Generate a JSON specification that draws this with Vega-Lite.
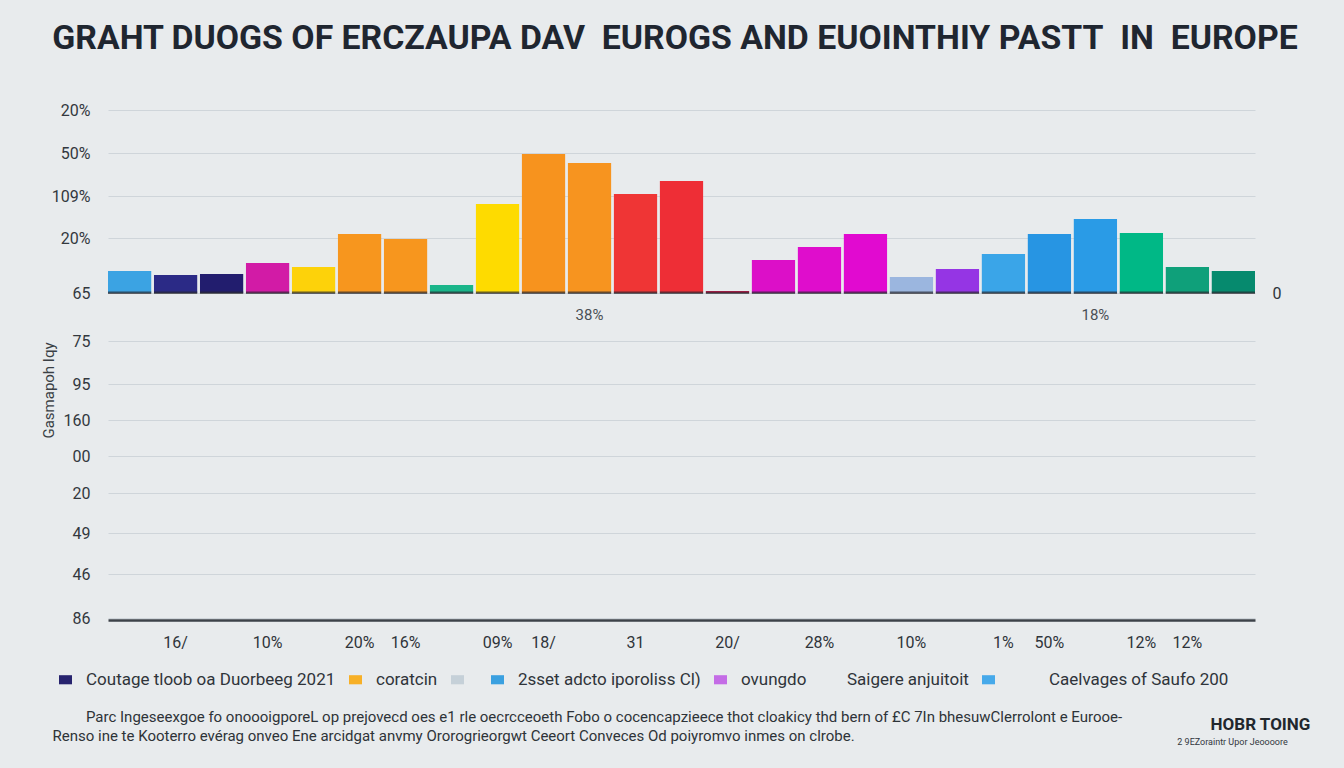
{
  "$schema": "https://vega.github.io/schema/vega-lite/v6.json",
  "autosize": {"type": "none"},
  "width": 1160,
  "height": 510,
  "padding": {"left": 108, "top": 110, "right": 76, "bottom": 148},
  "background": "#e8ebed",
  "config": {"view": {"stroke": null}, "font": "Roboto"},
  "title": {
    "text": "GRAHT DUOGS OF ERCZAUPA DAV\u00a0 EUROGS AND EUOINTHIY PASTT\u00a0 IN\u00a0 EUROPE",
    "font": "Roboto",
    "fontSize": 33.8,
    "fontWeight": "bold",
    "color": "#1f2630",
    "anchor": "middle",
    "frame": "group",
    "offset": 46,
    "dx": -13
  },
  "datasets": {
    "bars": [
      {"bar": 1, "value": 2.2, "bottom_label": "", "mid_label": ""},
      {"bar": 2, "value": 1.8, "bottom_label": "16/", "mid_label": ""},
      {"bar": 3, "value": 1.9, "bottom_label": "", "mid_label": ""},
      {"bar": 4, "value": 3.0, "bottom_label": "10%", "mid_label": ""},
      {"bar": 5, "value": 2.6, "bottom_label": "", "mid_label": ""},
      {"bar": 6, "value": 5.9, "bottom_label": "20%", "mid_label": ""},
      {"bar": 7, "value": 5.4, "bottom_label": "16%", "mid_label": ""},
      {"bar": 8, "value": 0.8, "bottom_label": "", "mid_label": ""},
      {"bar": 9, "value": 8.9, "bottom_label": "09%", "mid_label": ""},
      {"bar": 10, "value": 13.9, "bottom_label": "18/", "mid_label": ""},
      {"bar": 11, "value": 13.0, "bottom_label": "", "mid_label": "38%"},
      {"bar": 12, "value": 9.9, "bottom_label": "31", "mid_label": ""},
      {"bar": 13, "value": 11.2, "bottom_label": "", "mid_label": ""},
      {"bar": 14, "value": 0.2, "bottom_label": "20/", "mid_label": ""},
      {"bar": 15, "value": 3.3, "bottom_label": "", "mid_label": ""},
      {"bar": 16, "value": 4.6, "bottom_label": "28%", "mid_label": ""},
      {"bar": 17, "value": 5.9, "bottom_label": "", "mid_label": ""},
      {"bar": 18, "value": 1.6, "bottom_label": "10%", "mid_label": ""},
      {"bar": 19, "value": 2.4, "bottom_label": "", "mid_label": ""},
      {"bar": 20, "value": 3.9, "bottom_label": "1%", "mid_label": ""},
      {"bar": 21, "value": 5.9, "bottom_label": "50%", "mid_label": ""},
      {"bar": 22, "value": 7.4, "bottom_label": "", "mid_label": "18%"},
      {"bar": 23, "value": 6.0, "bottom_label": "12%", "mid_label": ""},
      {"bar": 24, "value": 2.6, "bottom_label": "12%", "mid_label": ""},
      {"bar": 25, "value": 2.2, "bottom_label": "", "mid_label": ""}
    ],
    "legend": [
      {"entry": "Coutage tloob oa Duorbeeg 2021"},
      {"entry": "coratcin"},
      {"entry": "gap1"},
      {"entry": "2sset adcto iporoliss Cl)"},
      {"entry": "ovungdo"},
      {"entry": "Saigere anjuitoit"},
      {"entry": "gap2"},
      {"entry": "Caelvages of Saufo 200"}
    ]
  },
  "resolve": {"axis": {"x": "independent", "y": "independent"}},
  "layer": [
    {
      "data": {"name": "bars"},
      "mark": {"type": "bar"},
      "encoding": {
        "x": {
          "field": "bar", "type": "ordinal", "sort": null,
          "scale": {"range": [0, 1147], "paddingInner": 0.06, "paddingOuter": 0},
          "axis": {
            "orient": "bottom", "labels": false, "ticks": false, "grid": false,
            "domainColor": "#3d4249", "domainWidth": 2.5,
            "title": ["\u200b\u00a0\u00a0\u00a0\u00a0\u00a0\u00a0\u00a0\u00a0\u00a0Parc Ingeseexgoe fo onoooigporeL op prejovecd oes e1 rle oecrcceoeth Fobo o cocencapzieece thot cloakicy thd bern of £C 7In bhesuwClerrolont e Eurooe-", "Renso ine te Kooterro evérag onveo Ene arcidgat anvmy Ororogrieorgwt Ceeort Conveces Od poiyromvo inmes on clrobe."],
            "titleFont": "Roboto", "titleFontSize": 15, "titleFontWeight": "normal",
            "titleColor": "#2e3338", "titleAlign": "left", "titleBaseline": "top",
            "titleX": -56, "titleY": 89, "titleLineHeight": 19
          }
        },
        "y": {
          "field": "value", "type": "quantitative",
          "scale": {"domain": [-32.7, 18.3], "nice": false, "zero": false},
          "axis": {
            "orient": "left",
            "values": [18.3, 14, 9.7, 5.5, 0, -4.8, -9.1, -12.7, -16.3, -20, -24, -28.1, -32.5],
            "labelExpr": "datum.value == 18.3 ? '20%' : datum.value == 14 ? '50%' : datum.value == 9.7 ? '109%' : datum.value == 5.5 ? '20%' : datum.value == 0 ? '65' : datum.value == -4.8 ? '75' : datum.value == -9.1 ? '95' : datum.value == -12.7 ? '160' : datum.value == -16.3 ? '00' : datum.value == -20 ? '20' : datum.value == -24 ? '49' : datum.value == -28.1 ? '46' : '86'",
            "grid": true, "gridColor": "#cfd5da", "gridWidth": 1,
            "ticks": false, "domain": false, "labelPadding": 18,
            "labelFont": "Roboto", "labelFontSize": 16, "labelColor": "#33383e",
            "title": "Gasmapoh Iqy", "titleFont": "Roboto", "titleFontSize": 15, "titleFontWeight": "normal",
            "titleColor": "#3a3f45", "titleAngle": 270, "titleAlign": "center", "titleBaseline": "middle",
            "titleX": -60, "titleY": 280
          }
        },
        "y2": {"datum": 0},
        "color": {
          "field": "bar", "type": "nominal", "sort": null,
          "scale": {
            "domain": [1, 2, 3, 4, 5, 6, 7, 8, 9, 10, 11, 12, 13, 14, 15, 16, 17, 18, 19, 20, 21, 22, 23, 24, 25],
            "range": ["#3ba3e3", "#2b2a86", "#221d6e", "#d21ba6", "#fdd20a", "#f7961e", "#f7961e", "#1ab58a", "#fedb00", "#f7931e", "#f7941f", "#ef3535", "#ee2e36", "#d6184e", "#dc0fc8", "#df0dcc", "#e10ad0", "#9bb6df", "#9535e4", "#3aa5e8", "#2795e3", "#2a9be6", "#00b886", "#0fa07a", "#068a6e"]
          },
          "legend": null
        }
      }
    },
    {
      "data": {"name": "bars"},
      "mark": {"type": "bar", "color": "#2a2a30", "opacity": 0.7},
      "encoding": {
        "x": {"field": "bar", "type": "ordinal", "sort": null, "axis": null},
        "y": {"datum": 0.15, "type": "quantitative", "axis": null},
        "y2": {"datum": -0.1}
      }
    },
    {
      "data": {"name": "bars"},
      "mark": {"type": "text", "font": "Roboto", "fontSize": 16, "color": "#2f343a"},
      "encoding": {
        "x": {"field": "bar", "type": "ordinal", "sort": null, "axis": null},
        "y": {"datum": -35, "type": "quantitative", "axis": null},
        "text": {"field": "bottom_label"}
      }
    },
    {
      "data": {"name": "bars"},
      "mark": {"type": "text", "font": "Roboto", "fontSize": 15, "color": "#4a4f55"},
      "encoding": {
        "x": {
          "field": "bar", "type": "ordinal", "sort": null,
          "axis": {
            "orient": "top", "labels": false, "ticks": false, "domain": false, "grid": false,
            "title": "2 9EZoraintr Upor Jeoooore", "titleFont": "Roboto", "titleFontSize": 9,
            "titleFontWeight": "normal", "titleColor": "#33383e", "titleAlign": "center",
            "titleBaseline": "middle", "titleX": 1124, "titleY": 631
          }
        },
        "y": {
          "datum": -2.2, "type": "quantitative",
          "axis": {
            "orient": "right", "values": [0], "ticks": false, "domain": false, "grid": false,
            "labelPadding": 4, "labelFont": "Roboto", "labelFontSize": 16, "labelColor": "#2f343a",
            "title": "HOBR TOING", "titleFont": "Roboto", "titleFontSize": 17, "titleFontWeight": "bold",
            "titleColor": "#22272d", "titleAngle": 0, "titleAlign": "center", "titleBaseline": "middle",
            "titleX": -8, "titleY": 614
          }
        },
        "text": {"field": "mid_label"}
      }
    },
    {
      "data": {"name": "legend"},
      "mark": {"type": "text"},
      "encoding": {
        "text": {"value": ""},
        "fill": {
          "field": "entry", "type": "nominal",
          "scale": {
            "domain": ["Coutage tloob oa Duorbeeg 2021", "coratcin", "gap1", "2sset adcto iporoliss Cl)", "ovungdo", "Saigere anjuitoit", "gap2", "Caelvages of Saufo 200"],
            "range": ["#27236e", "#f7b027", "#c5d0d8", "#3aa0e0", "#c46ce6", "rgba(0,0,0,0)", "#46a9ea", "rgba(0,0,0,0)"]
          },
          "legend": {
            "orient": "none", "legendX": -51, "legendY": 561,
            "direction": "horizontal", "columns": 8, "title": null, "padding": 0,
            "symbolType": "M-1,-0.7H1V0.7H-1Z", "symbolSize": 169, "symbolOpacity": 1,
            "symbolStrokeWidth": 0,
            "labelFont": "Roboto", "labelFontSize": 17, "labelColor": "#2f343a",
            "labelOffset": 12, "columnPadding": 11, "labelLimit": 400,
            "labelExpr": "datum.label == 'gap1' || datum.label == 'gap2' ? '' : datum.label"
          }
        }
      }
    }
  ]
}
